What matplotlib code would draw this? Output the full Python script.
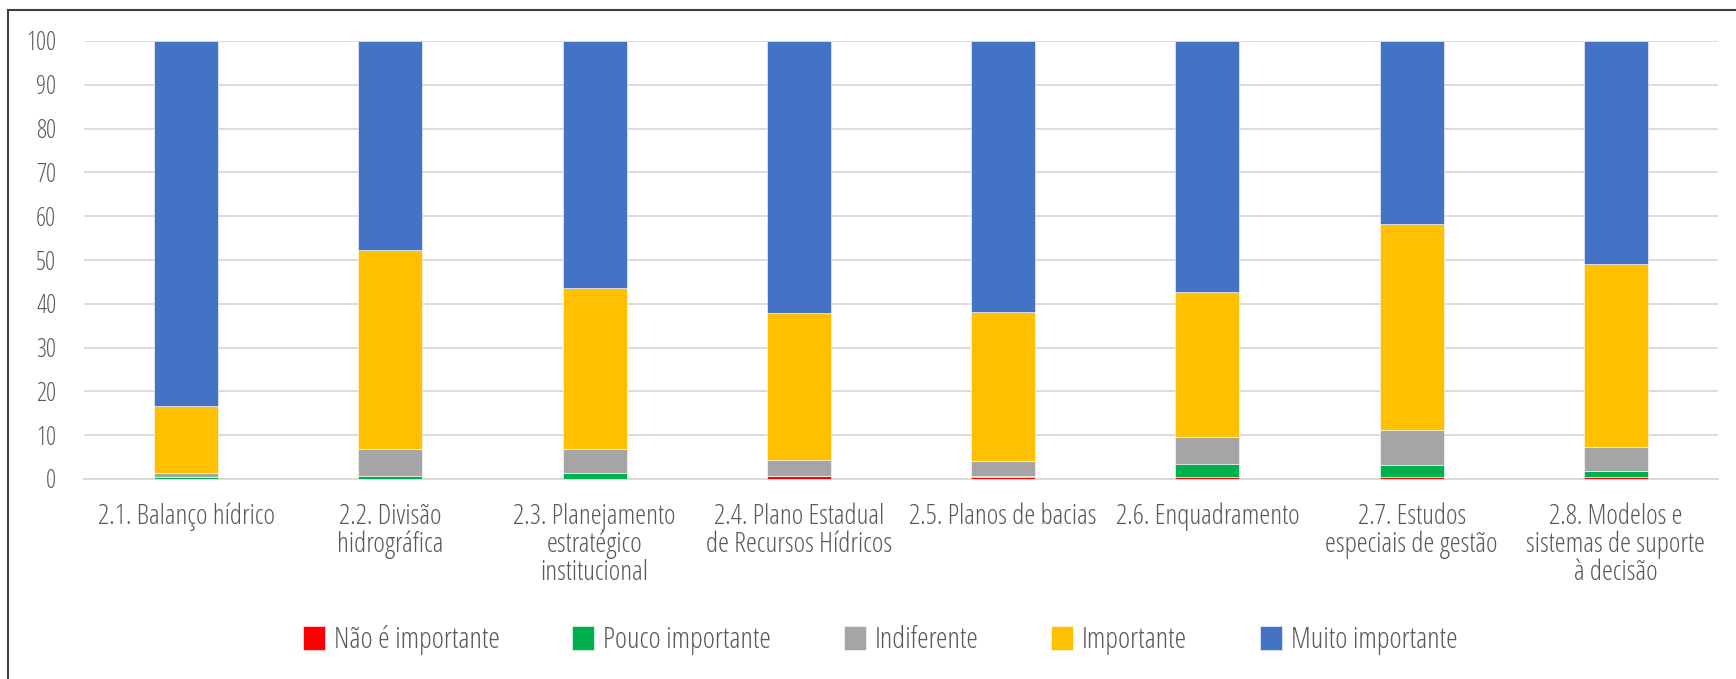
import numpy as np
import matplotlib
matplotlib.use('Agg')
import matplotlib.pyplot as plt
from matplotlib import font_manager
from matplotlib.lines import Line2D

# procurar uma fonte estreita (a original parece Agency FB)
estreitas = [f for f in font_manager.fontManager.ttflist
             if str(f.stretch) in ('condensed', 'semi-condensed', 'extra-condensed', 'ultra-condensed')
             and f.style == 'normal']
preferidas = ['Noto Sans', 'Roboto', 'Open Sans', 'DejaVu Sans', 'Liberation Sans Narrow', 'Inter', 'Lato']
fonte, esticar, peso, tam = 'DejaVu Sans', 'normal', 'normal', 14
for p in preferidas:
    achou = [f for f in estreitas if f.name == p]
    if achou:
        # preferir peso médio / normal
        achou.sort(key=lambda f: abs((f.weight if isinstance(f.weight, int) else 400) - 500))
        fonte, esticar, peso, tam = p, achou[0].stretch, achou[0].weight, 18
        break
plt.rcParams['font.family'] = [fonte, 'DejaVu Sans']
plt.rcParams['font.stretch'] = esticar
plt.rcParams['font.weight'] = peso

categorias = ['2.1. Balanço hídrico', '2.2. Divisão\nhidrográfica',
              '2.3. Planejamento\nestratégico\ninstitucional',
              '2.4. Plano Estadual\nde Recursos Hídricos', '2.5. Planos de bacias',
              '2.6. Enquadramento', '2.7. Estudos\nespeciais de gestão',
              '2.8. Modelos e\nsistemas de suporte\nà decisão']

nao_importante = [0.0, 0.0, 0.0, 0.7, 0.35, 0.5, 0.4, 0.4]
pouco_importante = [0.4, 0.7, 1.3, 0.0, 0.35, 2.9, 2.7, 1.4]
indiferente = [0.9, 6.2, 5.6, 3.6, 3.3, 6.2, 8.1, 5.5]
importante = [15.3, 45.3, 36.7, 33.6, 34.1, 33.2, 47.0, 41.9]
muito_importante = [83.4, 47.8, 56.4, 62.1, 61.9, 57.2, 41.8, 50.7]

series = [('Não é importante', nao_importante, '#FF0000'),
          ('Pouco importante', pouco_importante, '#00B050'),
          ('Indiferente', indiferente, '#A5A5A5'),
          ('Importante', importante, '#FFC000'),
          ('Muito importante', muito_importante, '#4472C4')]

W, H = 1736, 679
fig = plt.figure(figsize=(W / 100, H / 100), dpi=100)
ax = fig.add_axes([84 / W, 1 - 479 / H, (1718 - 84) / W, (479 - 41) / H])

x = np.arange(len(categorias))
base = np.zeros(len(categorias))
for nome, vals, cor in series:
    ax.bar(x, vals, 0.313, bottom=base, color=cor, label=nome,
           edgecolor='white', linewidth=0.4, zorder=3)
    base += np.array(vals)

ax.set_xlim(-0.5, len(categorias) - 0.5)
ax.set_ylim(0, 100)
ax.set_yticks(np.arange(0, 101, 10))
ax.grid(axis='y', color='#D9D9D9', linewidth=1.3, zorder=0)
for s in ['top', 'right', 'left']:
    ax.spines[s].set_visible(False)
ax.spines['bottom'].set_color('#D9D9D9')
ax.spines['bottom'].set_linewidth(1.3)
ax.tick_params(axis='both', length=0, colors='#595959')
ax.tick_params(axis='y', pad=20, labelsize=tam)
ax.tick_params(axis='x', pad=17, labelsize=tam + 2)
ax.set_xticks(x)
ax.set_xticklabels(categorias, linespacing=1.0)

fig.legend(loc='center', bbox_to_anchor=(0.507, 1 - 640 / H), ncol=5, frameon=False,
           fontsize=tam + 3, labelcolor='#595959', handlelength=0.75, handleheight=0.85,
           handletextpad=0.3, columnspacing=2.5)

# moldura (só visível em cima e à esquerda)
fig.add_artist(Line2D([8 / W, 8 / W], [0, 1 - 10 / H], color='#404040', linewidth=1.5))
fig.add_artist(Line2D([8 / W, 1], [1 - 10 / H, 1 - 10 / H], color='#404040', linewidth=1.5))

fig.savefig('out.png', dpi=100)
